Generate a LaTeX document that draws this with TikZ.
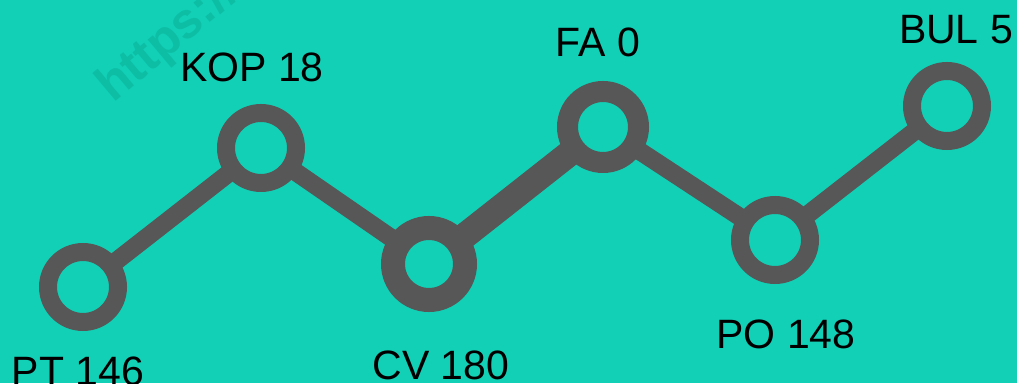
\documentclass[tikz,border=0pt]{standalone}
\usepackage{fontspec}
\setmainfont{Liberation Sans}
\definecolor{bgteal}{HTML}{11D0B6}
\definecolor{ring}{HTML}{575757}
\definecolor{wmark}{HTML}{0DBEA5}
\pgfdeclarelayer{bgl}
\pgfdeclarelayer{linel}
\pgfsetlayers{bgl,linel,main}
\begin{document}
\begin{tikzpicture}[x=1pt,y=1pt,
  stop/.style={circle,draw=ring,fill=bgteal,inner sep=0pt,line width=18pt,minimum size=70pt},
  lab/.style={anchor=base,inner sep=0pt,font=\fontsize{41}{41}\selectfont,text=black},
  link/.style={draw=ring,line width=18pt}]
\useasboundingbox (0,0) rectangle (1017,383);
\begin{pgfonlayer}{bgl}
\fill[bgteal] (0,0) rectangle (1017,383);
\clip (0,0) rectangle (1017,383);
\node[anchor=base west,inner sep=0pt,rotate=40,text=wmark,font=\fontsize{50}{50}\selectfont\bfseries] (wm) at (113,279) {https://};
\end{pgfonlayer}
\node[stop] (pt) at (83,96) {};
\node[stop] (kop) at (261,235) {};
\node[stop,line width=24pt,minimum size=72pt] (cv) at (429,119) {};
\node[stop,line width=21pt,minimum size=71pt] (fa) at (603,256) {};
\node[stop] (po) at (775,143) {};
\node[stop] (bul) at (947,277) {};
\begin{pgfonlayer}{linel}
\draw[link] (pt.center) -- (kop.center);
\draw[link] (kop.center) -- (cv.center);
\draw[link,line width=26pt] (cv.center) -- (fa.center);
\draw[link] (fa.center) -- (po.center);
\draw[link] (po.center) -- (bul.center);
\end{pgfonlayer}
\node[lab] (lpt) at (78,-2) {PT 146};
\node[lab] (lkop) at (252,301) {KOP 18};
\node[lab] (lcv) at (441,4) {CV 180};
\node[lab] (lfa) at (598,326) {FA 0};
\node[lab] (lpo) at (786,35) {PO 148};
\node[lab] (lbul) at (956,339) {BUL 5};
\end{tikzpicture}
\end{document}
